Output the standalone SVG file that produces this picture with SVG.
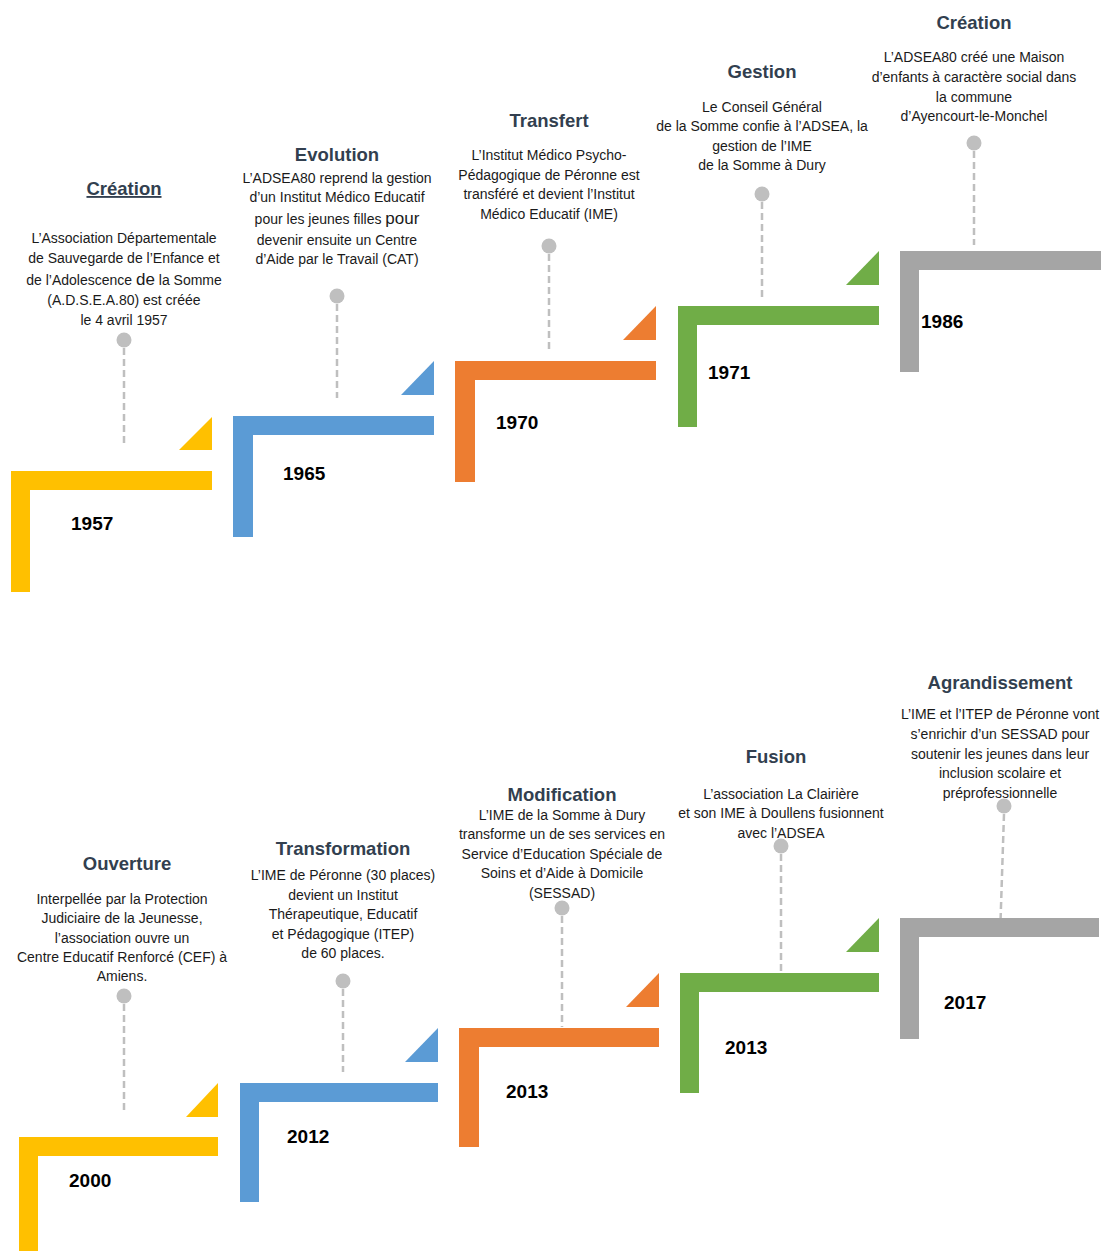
<svg xmlns="http://www.w3.org/2000/svg" width="1104" height="1251" viewBox="0 0 1104 1251">
<style>
.t{font-family:"Liberation Sans",Arial,sans-serif;font-weight:bold;font-size:18.5px;fill:#323F4F;text-anchor:middle}
.b{font-family:"Liberation Sans",Arial,sans-serif;font-size:14px;fill:#1a1a1a;text-anchor:middle}
.y{font-family:"Liberation Sans",Arial,sans-serif;font-weight:bold;font-size:19px;fill:#000}
.big{font-size:17px}
.dash{stroke:#BFBFBF;stroke-width:2.5;stroke-dasharray:7,4;fill:none}
.dot{fill:#BFBFBF}
.c1{fill:#FFC000}.c2{fill:#5B9BD5}.c3{fill:#ED7D31}.c4{fill:#70AD47}.c5{fill:#A5A5A5}
</style>
<rect width="1104" height="1251" fill="#fff"/>
<g id="connectors">
<line class="dash" x1="124" y1="348" x2="124" y2="443"/>
<line class="dash" x1="337" y1="304" x2="337" y2="398"/>
<line class="dash" x1="549" y1="254" x2="549" y2="349"/>
<line class="dash" x1="762" y1="202" x2="762" y2="297"/>
<line class="dash" x1="974" y1="151" x2="974" y2="245"/>
<line class="dash" x1="124" y1="1004" x2="124" y2="1110"/>
<line class="dash" x1="343" y1="989" x2="343" y2="1072"/>
<line class="dash" x1="562" y1="916" x2="562" y2="1027"/>
<line class="dash" x1="781" y1="854" x2="781" y2="982"/>
<line class="dash" x1="1004" y1="814" x2="1000" y2="937"/>
</g>
<g id="n1957">
<path class="c1" d="M11 471H212V490H30V592H11Z"/>
<path class="c1" d="M179 450H212V417Z"/>
<circle class="dot" cx="124" cy="340" r="7.5"/>
<text class="t" x="124" y="195" text-decoration="underline">Création</text>
<text class="b" x="124" y="243">L’Association Départementale</text>
<text class="b" x="124" y="263">de Sauvegarde de l’Enfance et</text>
<text class="b" x="124" y="285">de l’Adolescence <tspan class="big">de</tspan> la Somme</text>
<text class="b" x="124" y="305">(A.D.S.E.A.80) est créée</text>
<text class="b" x="124" y="325">le 4 avril 1957</text>
<text class="y" x="71" y="530">1957</text>
</g>
<g id="n1965">
<path class="c2" d="M233 416H434V435H253V537H233Z"/>
<path class="c2" d="M401 395H434V361Z"/>
<circle class="dot" cx="337" cy="296" r="7.5"/>
<text class="t" x="337" y="161">Evolution</text>
<text class="b" x="337" y="183">L’ADSEA80 reprend la gestion</text>
<text class="b" x="337" y="202">d’un Institut Médico Educatif</text>
<text class="b" x="337" y="224">pour les jeunes filles <tspan class="big">pour</tspan></text>
<text class="b" x="337" y="245">devenir ensuite un Centre</text>
<text class="b" x="337" y="264">d’Aide par le Travail (CAT)</text>
<text class="y" x="283" y="480">1965</text>
</g>
<g id="n1970">
<path class="c3" d="M455 361H656V380H475V482H455Z"/>
<path class="c3" d="M623 340H656V306Z"/>
<circle class="dot" cx="549" cy="246" r="7.5"/>
<text class="t" x="549" y="127">Transfert</text>
<text class="b" x="549" y="160">L’Institut Médico Psycho-</text>
<text class="b" x="549" y="180">Pédagogique de Péronne est</text>
<text class="b" x="549" y="199">transféré et devient l’Institut</text>
<text class="b" x="549" y="219">Médico Educatif (IME)</text>
<text class="y" x="496" y="429">1970</text>
</g>
<g id="n1971">
<path class="c4" d="M678 306H879V325H697V427H678Z"/>
<path class="c4" d="M846 285H879V251Z"/>
<circle class="dot" cx="762" cy="194" r="7.5"/>
<text class="t" x="762" y="78">Gestion</text>
<text class="b" x="762" y="112">Le Conseil Général</text>
<text class="b" x="762" y="131">de la Somme confie à l’ADSEA, la</text>
<text class="b" x="762" y="151">gestion de l’IME</text>
<text class="b" x="762" y="170">de la Somme à Dury</text>
<text class="y" x="708" y="379">1971</text>
</g>
<g id="n1986">
<path class="c5" d="M900 251H1101V270H919V372H900Z"/>
<circle class="dot" cx="974" cy="143" r="7.5"/>
<text class="t" x="974" y="29">Création</text>
<text class="b" x="974" y="62">L’ADSEA80 créé une Maison</text>
<text class="b" x="974" y="82">d’enfants à caractère social dans</text>
<text class="b" x="974" y="102">la commune</text>
<text class="b" x="974" y="121">d’Ayencourt-le-Monchel</text>
<text class="y" x="921" y="328">1986</text>
</g>
<g id="n2000">
<path class="c1" d="M19 1137H218V1156H38V1251H19Z"/>
<path class="c1" d="M186 1117H218V1083Z"/>
<circle class="dot" cx="124" cy="996" r="7.5"/>
<text class="t" x="127" y="870">Ouverture</text>
<text class="b" x="122" y="904">Interpellée par la Protection</text>
<text class="b" x="122" y="923">Judiciaire de la Jeunesse,</text>
<text class="b" x="122" y="943">l’association ouvre un</text>
<text class="b" x="122" y="962">Centre Educatif Renforcé (CEF) à</text>
<text class="b" x="122" y="981">Amiens.</text>
<text class="y" x="69" y="1187">2000</text>
</g>
<g id="n2012">
<path class="c2" d="M240 1083H438V1102H259V1202H240Z"/>
<path class="c2" d="M405 1062H438V1028Z"/>
<circle class="dot" cx="343" cy="981" r="7.5"/>
<text class="t" x="343" y="855">Transformation</text>
<text class="b" x="343" y="880">L’IME de Péronne (30 places)</text>
<text class="b" x="343" y="900">devient un Institut</text>
<text class="b" x="343" y="919">Thérapeutique, Educatif</text>
<text class="b" x="343" y="939">et Pédagogique (ITEP)</text>
<text class="b" x="343" y="958">de 60 places.</text>
<text class="y" x="287" y="1143">2012</text>
</g>
<g id="n2013a">
<path class="c3" d="M459 1028H659V1047H479V1147H459Z"/>
<path class="c3" d="M626 1007H659V973Z"/>
<circle class="dot" cx="562" cy="908" r="7.5"/>
<text class="t" x="562" y="801">Modification</text>
<text class="b" x="562" y="820">L’IME de la Somme à Dury</text>
<text class="b" x="562" y="839">transforme un de ses services en</text>
<text class="b" x="562" y="859">Service d’Education Spéciale de</text>
<text class="b" x="562" y="878">Soins et d’Aide à Domicile</text>
<text class="b" x="562" y="898">(SESSAD)</text>
<text class="y" x="506" y="1098">2013</text>
</g>
<g id="n2013b">
<path class="c4" d="M680 973H879V992H699V1093H680Z"/>
<path class="c4" d="M846 952H879V918Z"/>
<circle class="dot" cx="781" cy="846" r="7.5"/>
<text class="t" x="776" y="763">Fusion</text>
<text class="b" x="781" y="799">L’association La Clairière</text>
<text class="b" x="781" y="818">et son IME à Doullens fusionnent</text>
<text class="b" x="781" y="838">avec l’ADSEA</text>
<text class="y" x="725" y="1054">2013</text>
</g>
<g id="n2017">
<path class="c5" d="M900 918H1099V937H919V1039H900Z"/>
<circle class="dot" cx="1004" cy="806" r="7.5"/>
<text class="t" x="1000" y="689">Agrandissement</text>
<text class="b" x="1000" y="719">L’IME et l’ITEP de Péronne vont</text>
<text class="b" x="1000" y="739">s’enrichir d’un SESSAD pour</text>
<text class="b" x="1000" y="759">soutenir les jeunes dans leur</text>
<text class="b" x="1000" y="778">inclusion scolaire et</text>
<text class="b" x="1000" y="798">préprofessionnelle</text>
<text class="y" x="944" y="1009">2017</text>
</g>
</svg>
